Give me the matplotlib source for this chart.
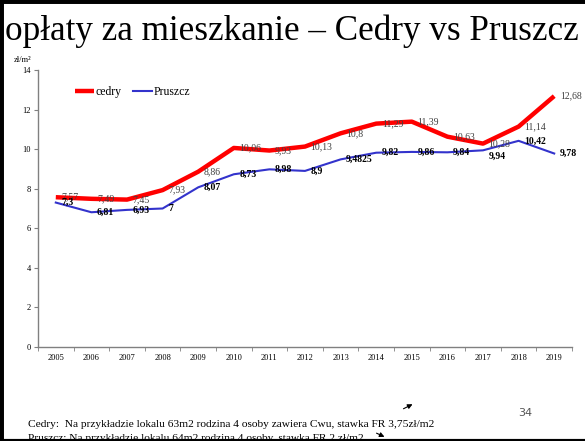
import matplotlib
matplotlib.use("Agg")
import matplotlib.pyplot as plt
from matplotlib.lines import Line2D

years = ["2005", "2006", "2007", "2008", "2009", "2010", "2011", "2012",
         "2013", "2014", "2015", "2016", "2017", "2018", "2019"]
cedry = [7.57, 7.49, 7.45, 7.93, 8.86, 10.06, 9.93, 10.13, 10.8, 11.29,
         11.39, 10.63, 10.28, 11.14, 12.68]
pruszcz = [7.3, 6.81, 6.93, 7, 8.07, 8.73, 8.98, 8.9, 9.4825, 9.82,
           9.86, 9.84, 9.94, 10.42, 9.78]
cedry_labels = ["7,57", "7,49", "7,45", "7,93", "8,86", "10,06", "9,93", "10,13",
                "10,8", "11,29", "11,39", "10,63", "10,28", "11,14", "12,68"]
pruszcz_labels = ["7,3", "6,81", "6,93", "7", "8,07", "8,73", "8,98", "8,9",
                  "9,4825", "9,82", "9,86", "9,84", "9,94", "10,42", "9,78"]
y_ticks = [0, 2, 4, 6, 8, 10, 12, 14]

serif = "Liberation Serif"
plt.rcParams['font.family'] = [serif, 'DejaVu Serif']

fig = plt.figure(figsize=(5.85, 4.41), dpi=100)
ax = fig.add_axes([38 / 585, 1 - 347 / 441, (572 - 38) / 585, (347 - 70) / 441])

x = list(range(len(years)))
ax.plot(x, cedry, color="#ff0000", lw=3.2, label="cedry", solid_capstyle="butt")
ax.plot(x, pruszcz, color="#3333cc", lw=1.5, label="Pruszcz")

for i, lab in enumerate(cedry_labels):
    ax.annotate(lab, (x[i], cedry[i]), xytext=(4, 0), textcoords="offset points",
                ha="left", va="center", fontsize=7, color="#404040")
for i, lab in enumerate(pruszcz_labels):
    dy = -4 if lab == "9,94" else 0
    ax.annotate(lab, (x[i], pruszcz[i]), xytext=(4, dy), textcoords="offset points",
                ha="left", va="center", fontsize=7, color="black", fontweight="bold")

ax.set_xlim(-0.5, len(years) - 0.5)
ax.set_ylim(0, 14)
ax.set_yticks(y_ticks)
ax.set_yticklabels([str(v) for v in y_ticks], fontsize=6)
ax.set_xticks(x)
ax.set_xticklabels(years, fontsize=6)
ax.set_xticks([i - 0.5 for i in range(len(years) + 1)], minor=True)
ax.tick_params(axis="x", which="major", length=0, pad=5)
ax.tick_params(axis="x", which="minor", length=3, color="#808080", direction="out")
ax.tick_params(axis="y", length=3, color="#808080", pad=2)
for s in ["top", "right"]:
    ax.spines[s].set_visible(False)
for s in ["left", "bottom"]:
    ax.spines[s].set_color("#808080")
    ax.spines[s].set_linewidth(1)

ax.legend(loc="upper left", bbox_to_anchor=(0.05, 0.98), ncol=2, frameon=False,
          fontsize=8.5, handlelength=1.6, handletextpad=0.1, columnspacing=1.0)

fig.text(5 / 585, 1 - 40 / 441, "opłaty za mieszkanie – Cedry vs Pruszcz",
         fontsize=25.3, ha="left", va="baseline")
fig.text(14 / 585, 1 - 62 / 441, "zł/m²", fontsize=6, ha="left", va="baseline")
fig.text(28 / 585, 1 - 427 / 441,
         "Cedry:  Na przykładzie lokalu 63m2 rodzina 4 osoby zawiera Cwu, stawka FR 3,75zł/m2",
         fontsize=8.2, ha="left", va="baseline")
fig.text(28 / 585, 1 - 441 / 441,
         "Pruszcz: Na przykładzie lokalu 64m2 rodzina 4 osoby, stawka FR 2 zł/m2",
         fontsize=8.2, ha="left", va="baseline")
fig.text(525 / 585, 1 - 416 / 441, "34", fontsize=8, color="#555555",
         family="DejaVu Sans", ha="center", va="baseline")

fig.add_artist(Line2D([0, 0], [0, 1], transform=fig.transFigure, color="black", lw=5))
fig.add_artist(Line2D([0, 1], [1, 1], transform=fig.transFigure, color="black", lw=5))
fig.add_artist(Line2D([0, 1], [0, 0], transform=fig.transFigure, color="black", lw=3))

arrow_kw = dict(arrowstyle="-|>", color="black", lw=0.8, mutation_scale=7)
fig.add_artist(matplotlib.patches.FancyArrowPatch(
    (401 / 585, 1 - 410 / 441), (415 / 585, 1 - 403 / 441),
    transform=fig.transFigure, **arrow_kw))
fig.add_artist(matplotlib.patches.FancyArrowPatch(
    (374 / 585, 1 - 432 / 441), (387 / 585, 1 - 438 / 441),
    transform=fig.transFigure, **arrow_kw))

fig.savefig("out.png", dpi=100)
